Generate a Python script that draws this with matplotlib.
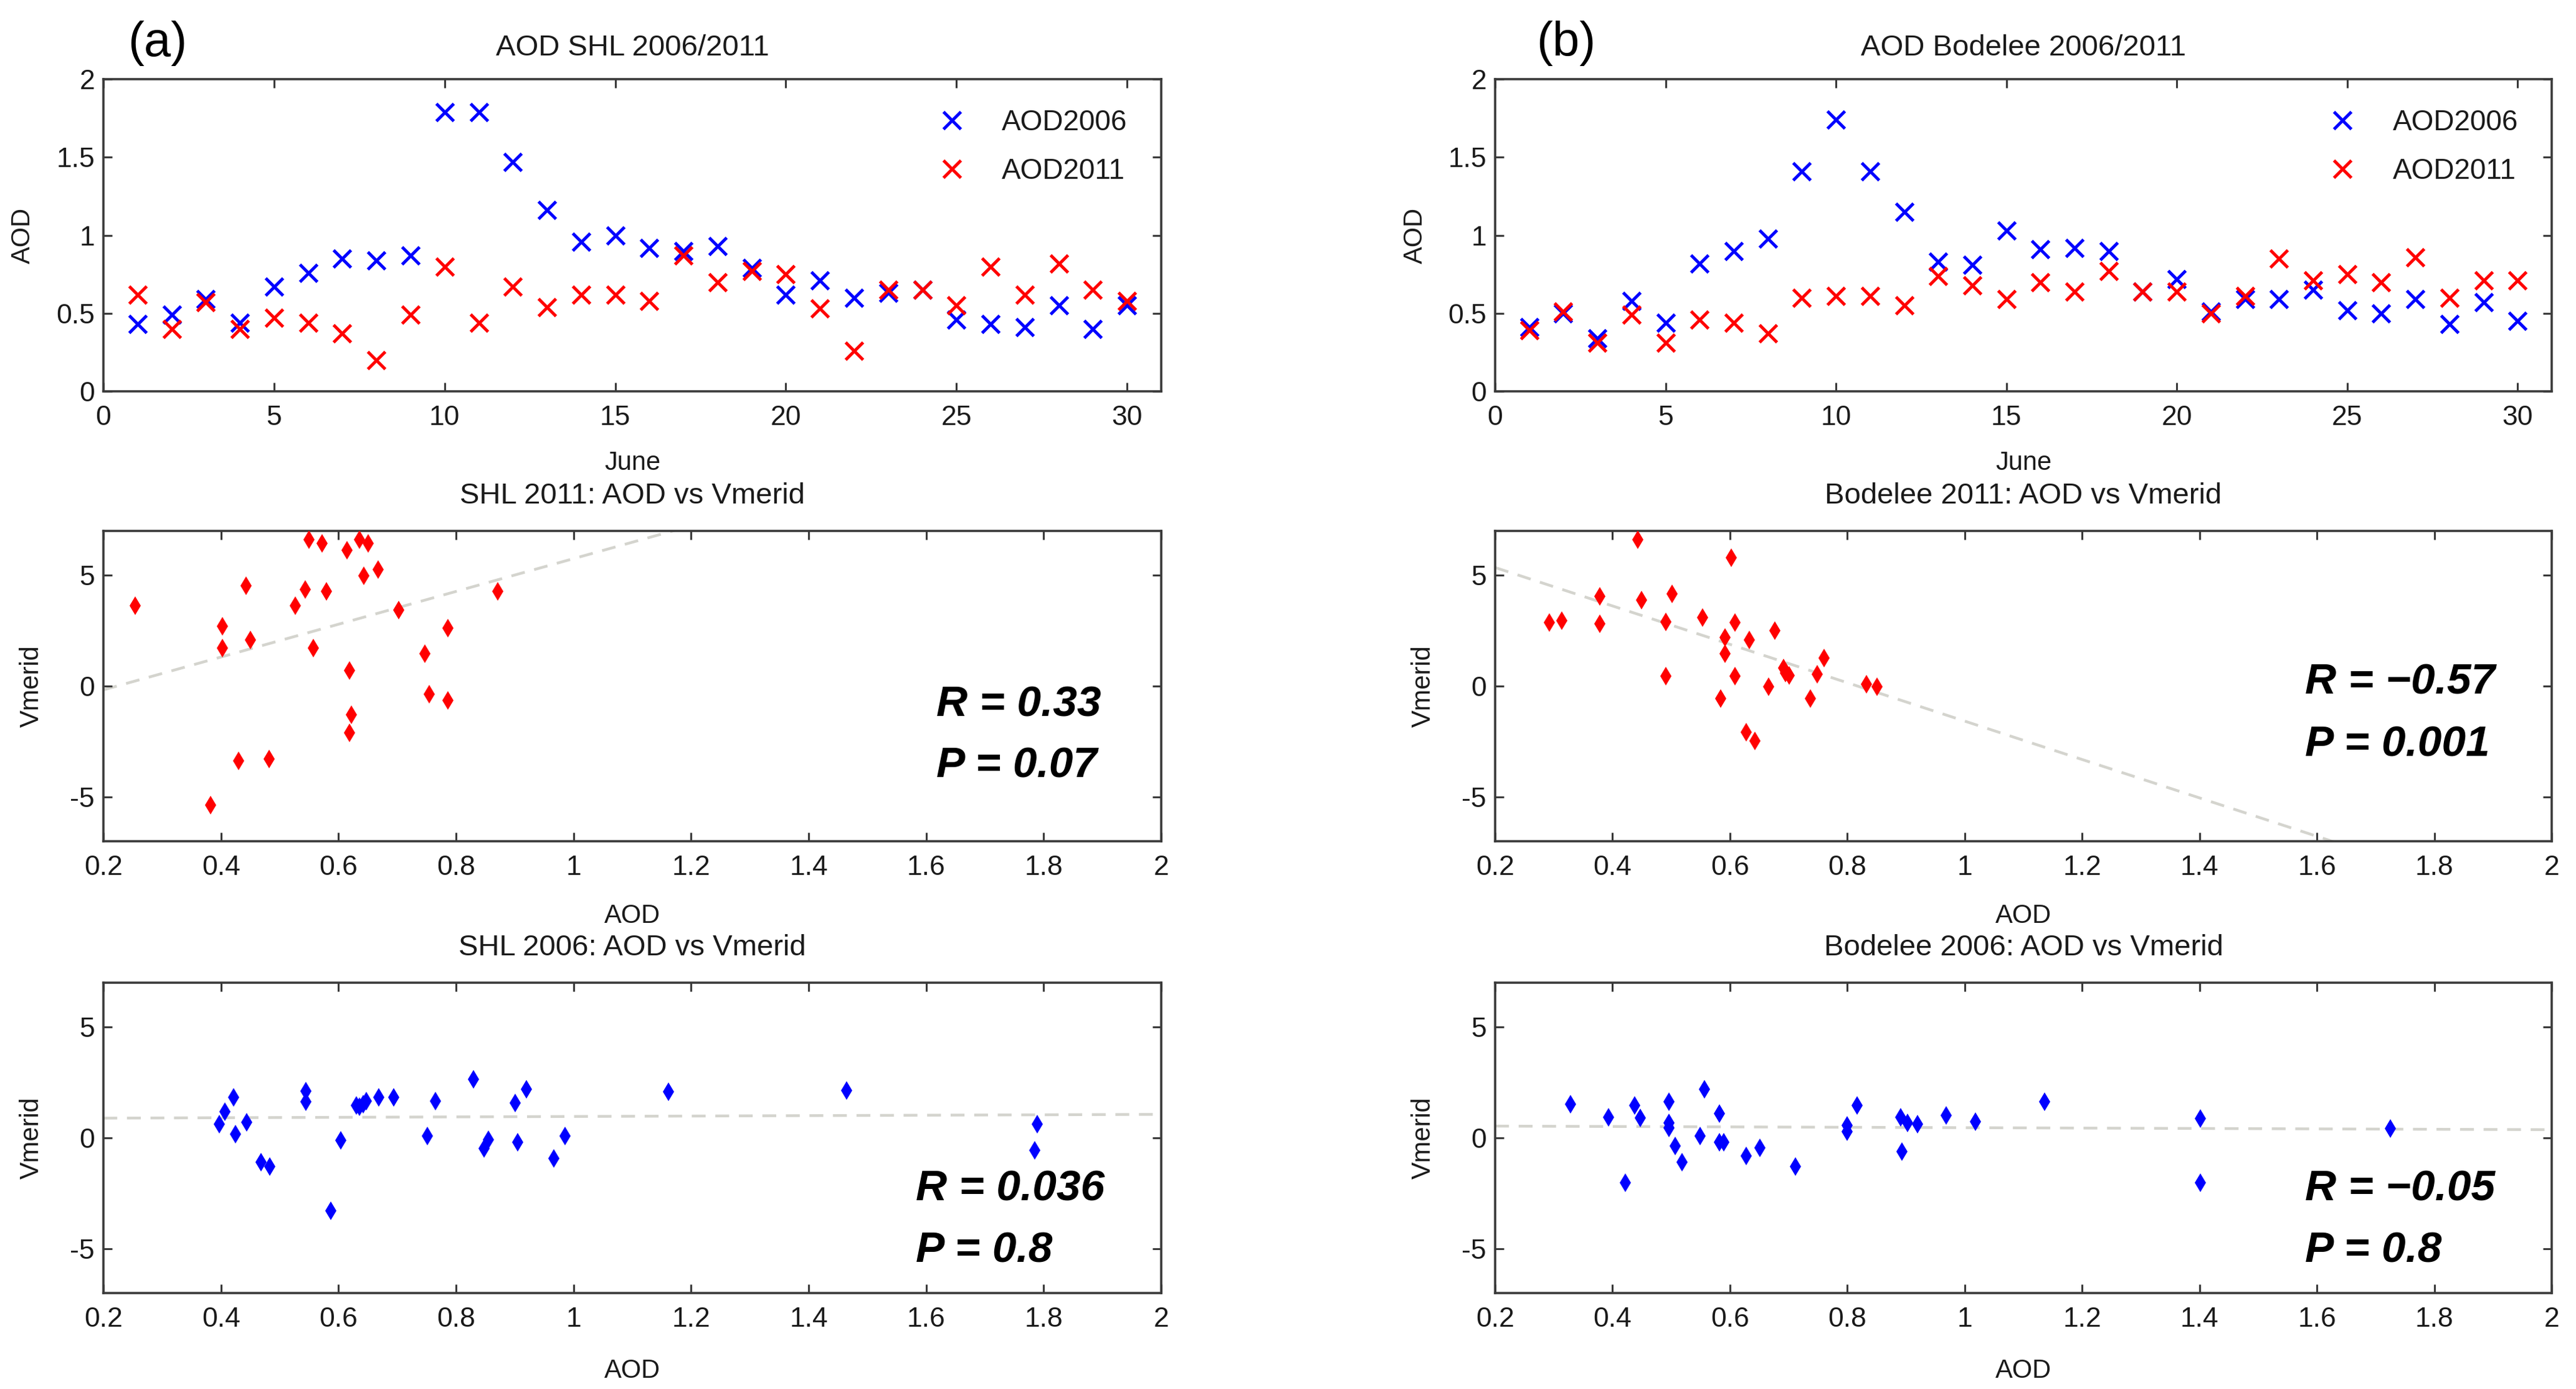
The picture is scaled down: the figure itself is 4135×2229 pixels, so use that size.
import numpy as np
import matplotlib
matplotlib.use("Agg")
import matplotlib.pyplot as plt
from matplotlib.ticker import FuncFormatter

plt.rcParams['font.family'] = ['Liberation Sans', 'DejaVu Sans']

# ---------------- data ----------------
days = list(range(1, 31))

shl_aod2006 = [0.43, 0.49, 0.59, 0.44, 0.67, 0.76, 0.85, 0.84, 0.87, 1.79,
               1.79, 1.47, 1.16, 0.96, 1.00, 0.92, 0.90, 0.93, 0.79, 0.62,
               0.71, 0.60, 0.63, 0.65, 0.46, 0.43, 0.41, 0.55, 0.40, 0.55]
shl_aod2011 = [0.62, 0.40, 0.57, 0.40, 0.47, 0.44, 0.37, 0.20, 0.49, 0.80,
               0.44, 0.67, 0.54, 0.62, 0.62, 0.58, 0.87, 0.70, 0.77, 0.75,
               0.53, 0.26, 0.65, 0.65, 0.55, 0.80, 0.62, 0.82, 0.65, 0.58]

bod_aod2006 = [0.41, 0.50, 0.34, 0.58, 0.44, 0.82, 0.90, 0.98, 1.41, 1.74,
               1.41, 1.15, 0.83, 0.81, 1.03, 0.91, 0.92, 0.90, 0.64, 0.72,
               0.51, 0.59, 0.59, 0.65, 0.52, 0.50, 0.59, 0.43, 0.57, 0.45]
bod_aod2011 = [0.39, 0.51, 0.31, 0.49, 0.31, 0.46, 0.44, 0.37, 0.60, 0.61,
               0.61, 0.55, 0.74, 0.68, 0.59, 0.70, 0.64, 0.77, 0.64, 0.64,
               0.50, 0.61, 0.85, 0.71, 0.75, 0.70, 0.86, 0.60, 0.71, 0.71]

# scatter: SHL 2011
shl11_aod = [0.254, 0.382, 0.403, 0.403, 0.430, 0.443, 0.450, 0.482, 0.526, 0.543,
             0.550, 0.557, 0.572, 0.580, 0.614, 0.619, 0.622, 0.619, 0.636, 0.643,
             0.651, 0.668, 0.703, 0.747, 0.754, 0.786, 0.786, 0.871]
shl11_v = [3.63, -5.37, 2.71, 1.71, -3.38, 4.52, 2.08, -3.29, 3.63, 4.35,
           6.62, 1.71, 6.43, 4.26, 6.14, 0.71, -1.29, -2.11, 6.62, 4.98,
           6.43, 5.27, 3.43, 1.45, -0.36, 2.61, -0.65, 4.26]

# scatter: Bodelee 2011
bod11_aod = [0.292, 0.314, 0.378, 0.378, 0.443, 0.449, 0.491, 0.491, 0.501, 0.553,
             0.584, 0.592, 0.592, 0.602, 0.609, 0.609, 0.628, 0.633, 0.643, 0.666,
             0.677, 0.691, 0.695, 0.701, 0.737, 0.749, 0.760, 0.833, 0.851]
bod11_v = [2.88, 2.95, 4.06, 2.80, 6.62, 3.89, 2.90, 0.44, 4.16, 3.08,
           -0.56, 2.18, 1.45, 5.78, 2.88, 0.44, -2.08, 2.08, -2.47, -0.02,
           2.51, 0.82, 0.58, 0.48, -0.56, 0.53, 1.26, 0.08, -0.02]

# scatter: SHL 2006
shl06_aod = [0.397, 0.407, 0.422, 0.425, 0.444, 0.468, 0.483, 0.544, 0.544, 0.587,
             0.604, 0.630, 0.636, 0.642, 0.647, 0.669, 0.694, 0.751, 0.765, 0.830,
             0.848, 0.855, 0.901, 0.905, 0.920, 0.966, 0.986, 1.162, 1.465, 1.789,
             1.785]
shl06_v = [0.63, 1.18, 1.84, 0.17, 0.71, -1.09, -1.28, 2.10, 1.62, -3.28,
           -0.10, 1.45, 1.40, 1.53, 1.67, 1.84, 1.84, 0.08, 1.65, 2.64,
           -0.47, -0.08, 1.57, -0.19, 2.18, -0.92, 0.08, 2.08, 2.15, 0.63,
           -0.56]

# scatter: Bodelee 2006
bod06_aod = [0.328, 0.393, 0.422, 0.438, 0.447, 0.496, 0.496, 0.496, 0.507, 0.518,
             0.549, 0.557, 0.582, 0.582, 0.589, 0.628, 0.651, 0.712, 0.800, 0.800,
             0.817, 0.891, 0.893, 0.903, 0.920, 0.968, 1.018, 1.136, 1.401, 1.401,
             1.725]
bod06_v = [1.53, 0.92, -2.02, 1.45, 0.89, 1.63, 0.68, 0.44, -0.37, -1.09,
           0.08, 2.18, 1.09, -0.19, -0.19, -0.82, -0.46, -1.28, 0.56, 0.29,
           1.45, 0.92, -0.63, 0.68, 0.63, 1.02, 0.73, 1.63, 0.875, -2.02,
           0.43]

# linear fits: (intercept, slope)
fit_shl11 = (-1.65, 7.40)
fit_bod11 = (7.08, -8.66)
fit_shl06 = (0.87, 0.095)
fit_bod06 = (0.55, -0.09)
fit_range = [0.2, 2.0]

stats_shl11 = ("R = 0.33", "P = 0.07")
stats_bod11 = ("R = \u22120.57", "P = 0.001")
stats_shl06 = ("R = 0.036", "P = 0.8")
stats_bod06 = ("R = \u22120.05", "P = 0.8")

titles_top = ["AOD SHL 2006/2011", "AOD Bodelee 2006/2011"]
titles_mid = ["SHL 2011: AOD vs Vmerid", "Bodelee 2011: AOD vs Vmerid"]
titles_bot = ["SHL 2006: AOD vs Vmerid", "Bodelee 2006: AOD vs Vmerid"]
panel_tags = ["(a)", "(b)"]

day_ticks = [0, 5, 10, 15, 20, 25, 30]
aod_ticks = [0, 0.5, 1, 1.5, 2]
sc_xticks = [0.2, 0.4, 0.6, 0.8, 1.0, 1.2, 1.4, 1.6, 1.8, 2.0]
sc_yticks = [-5, 0, 5]

# ---------------- figure ----------------
W, H = 4135, 2229
fig = plt.figure(figsize=(W / 100, H / 100), dpi=100)

TXT = '#1a1a1a'
SPINE = '#3a3a3a'
TICK_FS = 32
TITLE_FS = 34
LABEL_FS = 30

def px_axes(x0, x1, y0, y1):
    return fig.add_axes([x0 / W, 1 - y1 / H, (x1 - x0) / W, (y1 - y0) / H])

def style(ax):
    for s in ax.spines.values():
        s.set_linewidth(2.6)
        s.set_color(SPINE)
    ax.tick_params(direction='in', top=True, right=True, length=10, width=2.2,
                   color=SPINE, labelsize=TICK_FS, labelcolor=TXT)
    ax.tick_params(axis='x', pad=16)
    ax.tick_params(axis='y', pad=10)
    ax.yaxis.set_major_formatter(FuncFormatter(lambda v, p: '%g' % v))
    ax.xaxis.set_major_formatter(FuncFormatter(lambda v, p: '%g' % v))

def title(ax, t, y):
    ax.text(0.5, y, t, transform=ax.transAxes, ha='center', va='center',
            fontsize=TITLE_FS, color=TXT)

cols = [(166, 1864), (2400, 4096)]
rows = [(127, 628), (852, 1350), (1577, 2075)]
tag_x = [0.051, 0.067]

top_data = [(shl_aod2006, shl_aod2011), (bod_aod2006, bod_aod2011)]
mid_data = [(shl11_aod, shl11_v, fit_shl11, stats_shl11),
            (bod11_aod, bod11_v, fit_bod11, stats_bod11)]
bot_data = [(shl06_aod, shl06_v, fit_shl06, stats_shl06),
            (bod06_aod, bod06_v, fit_bod06, stats_bod06)]
stat_pos_mid = [((1.617, -0.85), (1.617, -3.6)), ((1.58, 0.15), (1.58, -2.65))]
stat_pos_bot = [((1.582, -2.33), (1.582, -5.1)), ((1.58, -2.33), (1.58, -5.1))]

for c in range(2):
    x0, x1 = cols[c]
    # ---- top time series ----
    ax = px_axes(x0, x1, *rows[0])
    a06, a11 = top_data[c]
    ax.plot(days, a06, linestyle='none', marker='x', color='#0000ff', ms=20, mew=3.6,
            label='AOD2006')
    ax.plot(days, a11, linestyle='none', marker='x', color='#ff0000', ms=20, mew=3.6,
            label='AOD2011')
    ax.set_xlim(0, 31)
    ax.set_ylim(0, 2)
    ax.set_xticks(day_ticks)
    ax.set_yticks(aod_ticks)
    style(ax)
    ax.set_xlabel('June', fontsize=LABEL_FS, color=TXT)
    ax.xaxis.set_label_coords(0.5, -0.19)
    ax.set_ylabel('AOD', fontsize=LABEL_FS, color=TXT)
    ax.yaxis.set_label_coords(-0.064, 0.5)
    title(ax, titles_top[c], 1.10)
    ax.legend(loc='upper left', bbox_to_anchor=(0.79, 0.905), frameon=False,
              borderpad=0, borderaxespad=0, handlelength=0.9, handletextpad=1.3,
              labelspacing=0.75, fontsize=33, labelcolor=TXT)
    ax.text(tag_x[c], 1.115, panel_tags[c], transform=ax.transAxes,
            ha='center', va='center', fontsize=56, color='black')

    # ---- middle & bottom scatter ----
    for r, (dat, spos, tt) in enumerate([(mid_data[c], stat_pos_mid[c], titles_mid[c]),
                                         (bot_data[c], stat_pos_bot[c], titles_bot[c])]):
        ax = px_axes(x0, x1, *rows[r + 1])
        xs, ys, (b0, b1), (rt, pt) = dat
        fx = np.array(fit_range)
        ax.plot(fx, b0 + b1 * fx, color='#d4d4ce', lw=3.2, dashes=(5, 3.5), zorder=1)
        color = '#ff0000' if r == 0 else '#0000ff'
        ax.plot(xs, ys, linestyle='none', marker='d', color=color, ms=15, mew=0,
                zorder=3)
        ax.set_xlim(0.2, 2.0)
        ax.set_ylim(-7, 7)
        ax.set_xticks(sc_xticks)
        ax.set_yticks(sc_yticks)
        style(ax)
        ax.set_xlabel('AOD', fontsize=LABEL_FS, color=TXT)
        ax.xaxis.set_label_coords(0.5, -0.20 - 0.01 * r)
        ax.set_ylabel('Vmerid', fontsize=LABEL_FS, color=TXT)
        ax.yaxis.set_label_coords(-0.056, 0.5)
        title(ax, tt, 1.112)
        for (tx, ty), s in zip(spos, (rt, pt)):
            ax.text(tx, ty, s, ha='left', va='center', fontsize=50,
                    fontweight='bold', fontstyle='italic', color='black')

fig.savefig('out.png', dpi=100, facecolor='white')
